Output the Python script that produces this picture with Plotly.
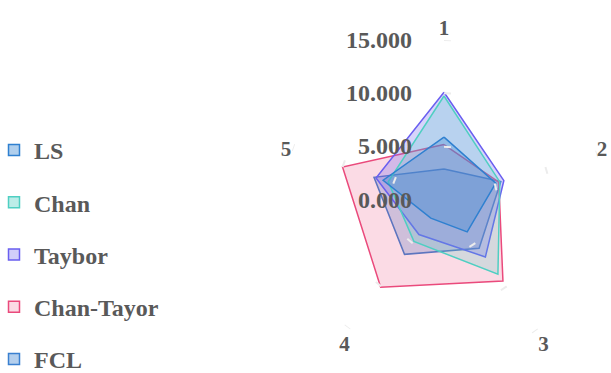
import plotly.graph_objects as go

axes_labels = ["1", "2", "3", "4", "5"]
axis_angles = [0, 72, 144, 216, 288]

series_names = ["LS", "Chan", "Taybor", "Chan-Tayor", "FCL"]
ls_vals = [5.9, 5.1, 3.7, 2.1, 6.0]
chan_vals = [9.75, 5.5, 8.6, 4.8, 5.5]
taybor_vals = [10.1, 5.9, 6.6, 4.0, 6.7]
chantayor_vals = [5.2, 5.4, 9.4, 10.1, 10.0]
fcl_vals = [2.9, 5.6, 5.6, 6.3, 6.9]

radial_ticks = [0, 5, 10, 15]

series_vals = [ls_vals, chan_vals, taybor_vals, chantayor_vals, fcl_vals]
line_colors = ["#2f80d0", "#4fcfc2", "#6a5ff0", "#ea4a7c", "#3a80d0"]
fill_colors = ["rgba(47,128,208,0.28)", "rgba(79,207,194,0.22)",
               "rgba(106,95,240,0.27)", "rgba(234,74,124,0.2)",
               "rgba(58,128,208,0.28)"]
legend_fills = ["rgba(47,128,208,0.38)", "rgba(79,207,194,0.38)",
                "rgba(106,95,240,0.3)", "rgba(234,74,124,0.2)",
                "rgba(58,128,208,0.38)"]

font_family = "Liberation Serif, Times New Roman, serif"
text_color = "#595959"

fig = go.Figure()

# draw data polygons: bottom-most first (FCL ... LS on top)
for i in reversed(range(len(series_names))):
    vals = series_vals[i]
    fig.add_trace(go.Scatterpolar(
        r=vals + [vals[0]],
        theta=axis_angles + [axis_angles[0]],
        mode="lines",
        fill="toself",
        fillcolor=fill_colors[i],
        line=dict(color=line_colors[i], width=1.5),
        name=series_names[i],
        showlegend=False,
        hoverinfo="name+r",
    ))

# dashed split circles (short dashes starting at each axis, clockwise)
dash_r, dash_t = [], []
for rv in [5, 10, 15]:
    px = rv * 160 / 15
    span = 7.0 / px * 180 / 3.14159
    for a in axis_angles:
        dash_r += [rv, rv, None]
        dash_t += [a, a + span, None]
fig.add_trace(go.Scatterpolar(
    r=dash_r, theta=dash_t, mode="lines",
    line=dict(color="#ececec", width=2),
    showlegend=False, hoverinfo="skip",
))

# legend entries
for i, nm in enumerate(series_names):
    fig.add_trace(go.Scatterpolar(
        r=[None], theta=[None], mode="markers", name=nm,
        marker=dict(symbol="square", size=11, color=legend_fills[i],
                    line=dict(color=line_colors[i], width=1.5)),
        legendgroup=nm,
    ))

W, H = 611, 373
cx, cy, R = 444, 200, 160

fig.update_layout(
    width=W, height=H,
    margin=dict(l=0, r=0, t=0, b=0, autoexpand=False),
    paper_bgcolor="white",
    plot_bgcolor="white",
    font=dict(family=font_family, color=text_color, size=24, weight="bold"),
    polar=dict(
        domain=dict(x=[(cx - R) / W, (cx + R) / W],
                    y=[(H - cy - R) / H, (H - cy + R) / H]),
        bgcolor="rgba(0,0,0,0)",
        angularaxis=dict(
            rotation=90, direction="clockwise",
            tickmode="array", tickvals=axis_angles, ticktext=axes_labels,
            showline=False, showgrid=False, ticks="",
            tickfont=dict(size=21, family=font_family, color=text_color, weight="bold"),
        ),
        radialaxis=dict(
            range=[0, 15], angle=90, side="counterclockwise",
            tickmode="array", tickvals=radial_ticks, tickformat=".3f",
            tickangle=90,
            showline=False, showgrid=False,
            ticks="outside", ticklen=23, tickcolor="rgba(0,0,0,0)",
            tickfont=dict(size=24, family=font_family, color=text_color, weight="bold"),
        ),
        gridshape="circular",
    ),
    legend=dict(
        x=-6 / W, xanchor="left", y=1 - 128 / H, yanchor="top",
        traceorder="grouped", tracegroupgap=18,
        font=dict(size=24, family=font_family, color=text_color, weight="bold"),
        bgcolor="rgba(0,0,0,0)",
    ),
)

fig.write_html("out.html")
